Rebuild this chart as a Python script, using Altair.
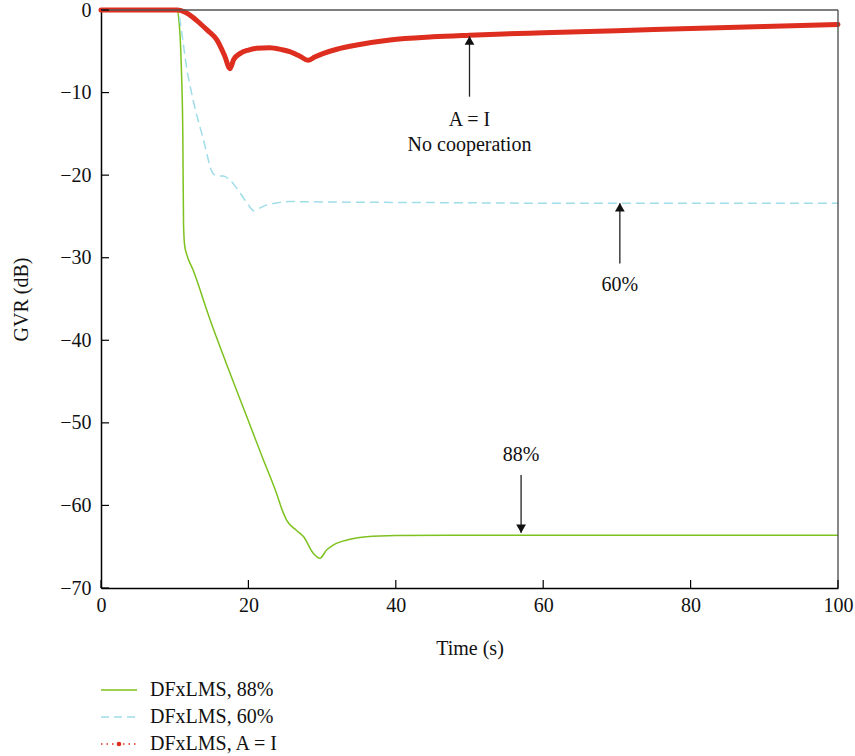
import altair as alt
import pandas as pd

# ---- data ----
t88 = [0, 10.3, 10.6, 10.9, 11.1, 11.2, 11.35, 11.6, 12.5, 14.8, 17.0, 19.8, 22.0, 23.8, 24.6,
       25.2, 26.5, 27.5, 28.8, 29.7, 30.6, 31.5, 33.8, 36.0, 40, 50, 60, 80, 100]
g88 = [0, 0, -1.5, -6.9, -15.0, -26.0, -28.5, -29.5, -31.5, -37.5, -42.8, -49.3, -54.4, -58.5, -60.6,
       -61.8, -63.0, -63.8, -65.8, -66.4, -65.4, -64.8, -64.1, -63.8, -63.65, -63.6, -63.6, -63.6, -63.6]

t60 = [0, 10.4, 10.9, 11.6, 12.5, 13.9, 15.2, 15.8, 16.6, 17.5, 18.9, 20.0, 20.7, 21.5, 22.5,
       24.0, 25.6, 30, 40, 50, 60, 70, 80, 90, 100]
g60 = [0, 0, -2.4, -6.9, -10.9, -15.7, -19.8, -20.1, -20.1, -20.6, -22.2, -23.6, -24.3, -24.0, -23.6,
       -23.35, -23.2, -23.25, -23.3, -23.35, -23.4, -23.4, -23.4, -23.4, -23.4]

tAI = [0, 10.4, 11.5, 12.5, 13.4, 14.5, 15.7, 16.8, 17.5, 18.0, 18.9, 20.0, 21.1, 22.9, 24.5,
       25.6, 27.0, 28.1, 29.0, 30.2, 32.0, 34.7, 39.2, 45, 50, 60, 70, 80, 90, 100]
gAI = [0, 0, -0.3, -0.9, -1.6, -2.5, -3.6, -5.6, -7.1, -6.0, -5.25, -4.85, -4.64, -4.56, -4.8,
       -5.05, -5.6, -6.1, -5.7, -5.25, -4.75, -4.24, -3.63, -3.25, -3.05, -2.75, -2.5, -2.25, -2.0, -1.75]

series_names = ["DFxLMS, 88%", "DFxLMS, 60%", "DFxLMS, A = I"]

x_ticks = [0, 20, 40, 60, 80, 100]
y_ticks = [-70, -60, -50, -40, -30, -20, -10, 0]

arrow_x = [50.0, 70.4, 57.0]
arrow_tail = [-10.5, -30.7, -56.3]
arrow_tip = [-3.2, -23.4, -63.3]
arrow_dir = ["up", "up", "down"]

label_text = ["A = I", "No cooperation", "60%", "88%"]
label_x = [50.0, 50.0, 70.4, 57.0]
label_y = [-13.3, -16.35, -33.3, -53.9]

# ---- styling ----
FONT = "Liberation Serif"
FS = 20
TXT = "#111"
GREEN = "#7dc21e"
CYAN = "#9fdde9"
RED = "#dd2e1f"
W, H = 737, 578

xs = alt.Scale(domain=[0, 100], nice=False, zero=False)
ys = alt.Scale(domain=[-70, 0], nice=False, zero=False)

df88 = pd.DataFrame({"t": t88, "g": g88})
df60 = pd.DataFrame({"t": t60, "g": g60})
dfAI = pd.DataFrame({"t": tAI, "g": gAI})

common_axis = dict(ticks=False, grid=False, labelFlush=False, domainColor="black", domainWidth=1.5,
                   labelFont=FONT, labelFontSize=FS, labelColor=TXT,
                   titleFont=FONT, titleFontSize=FS, titleColor=TXT, titleFontWeight="normal")
x_axis = alt.Axis(title="Time (s)", values=x_ticks, labelPadding=7,
                  titleY=60, titleBaseline="middle", **common_axis)
y_axis = alt.Axis(title="GVR (dB)", values=y_ticks, labelPadding=10,
                  titleX=-80, titleY=H / 2, titleAngle=270, titleAlign="center",
                  titleBaseline="middle", **common_axis)


def X(field):
    return alt.X(field, scale=xs, axis=x_axis)


def Y(field):
    return alt.Y(field, scale=ys, axis=y_axis)


green = alt.Chart(df88).mark_line(color=GREEN, strokeWidth=1.5, interpolate="monotone").encode(
    x=X("t:Q"), y=Y("g:Q"))
cyan = alt.Chart(df60).mark_line(color=CYAN, strokeWidth=1.5, strokeDash=[9, 5],
                                 interpolate="monotone").encode(x=X("t:Q"), y=Y("g:Q"))
red = alt.Chart(dfAI).mark_line(color=RED, strokeWidth=5, strokeJoin="round", strokeCap="round",
                                interpolate="monotone").encode(x=X("t:Q"), y=Y("g:Q"))

one = pd.DataFrame({"a": [0]})

# frame: top and right border
frame_top = alt.Chart(one).mark_rule(color="#555", strokeWidth=1.6).encode(
    x=alt.value(0), x2=alt.value(W), y=alt.value(0))
frame_right = alt.Chart(one).mark_rule(color="#555", strokeWidth=1.4).encode(
    x=alt.value(W), y=alt.value(0), y2=alt.value(H))

# inward ticks
xt = alt.Chart(pd.DataFrame({"v": x_ticks})).mark_rule(color="black", strokeWidth=1.2).encode(
    x=X("v:Q"), y=alt.value(H), y2=alt.value(H - 8))
yt = alt.Chart(pd.DataFrame({"v": y_ticks})).mark_rule(color="black", strokeWidth=1.2).encode(
    y=Y("v:Q"), x=alt.value(0), x2=alt.value(8))

# arrows
adf = pd.DataFrame({"x": arrow_x, "tail": arrow_tail, "tip": arrow_tip, "dir": arrow_dir})
arrow_lines = alt.Chart(adf).mark_rule(color="#222", strokeWidth=1.3).encode(
    x=X("x:Q"), y=Y("tail:Q"), y2="tip:Q")
heads_up = alt.Chart(adf).transform_filter(alt.datum.dir == "up").mark_point(
    shape="triangle-up", filled=True, color="#111", size=95, opacity=1, yOffset=4).encode(
    x=X("x:Q"), y=Y("tip:Q"))
heads_down = alt.Chart(adf).transform_filter(alt.datum.dir == "down").mark_point(
    shape="triangle-down", filled=True, color="#111", size=95, opacity=1, yOffset=-4).encode(
    x=X("x:Q"), y=Y("tip:Q"))

ldf = pd.DataFrame({"text": label_text, "x": label_x, "y": label_y})
labels = alt.Chart(ldf).mark_text(font=FONT, fontSize=FS, color=TXT, align="center",
                                  baseline="middle").encode(
    x=X("x:Q"), y=Y("y:Q"), text="text:N")

# legend (drawn below the plot)
leg_y = [680, 707, 734]
leg1 = alt.Chart(one).mark_rule(color=GREEN, strokeWidth=1.5).encode(
    x=alt.value(0), x2=alt.value(36), y=alt.value(leg_y[0]))
leg2 = alt.Chart(one).mark_rule(color=CYAN, strokeWidth=1.5, strokeDash=[8, 5]).encode(
    x=alt.value(0), x2=alt.value(36), y=alt.value(leg_y[1]))
leg3 = alt.Chart(one).mark_rule(color=RED, strokeWidth=1.5, strokeDash=[1.5, 4]).encode(
    x=alt.value(0), x2=alt.value(36), y=alt.value(leg_y[2]))
leg3p = alt.Chart(one).mark_point(color=RED, filled=True, size=22, opacity=1).encode(
    x=alt.value(18), y=alt.value(leg_y[2]))
leg_text = [
    alt.Chart(one).mark_text(font=FONT, fontSize=FS, color=TXT, align="left", baseline="middle").encode(
        x=alt.value(49), y=alt.value(yy), text=alt.value(name))
    for name, yy in zip(series_names, leg_y)
]

chart = alt.layer(
    green, cyan, red, frame_top, frame_right, xt, yt, arrow_lines, heads_up, heads_down, labels,
    leg1, leg2, leg3, leg3p, *leg_text
).properties(
    width=W, height=H,
    background="white",
    autosize=alt.AutoSizeParams(type="none"),
    padding={"left": 101, "top": 10, "right": 17, "bottom": 168},
).configure_view(
    stroke=None
)

chart.save("out.html", embed_options={"renderer": "svg", "actions": False})
